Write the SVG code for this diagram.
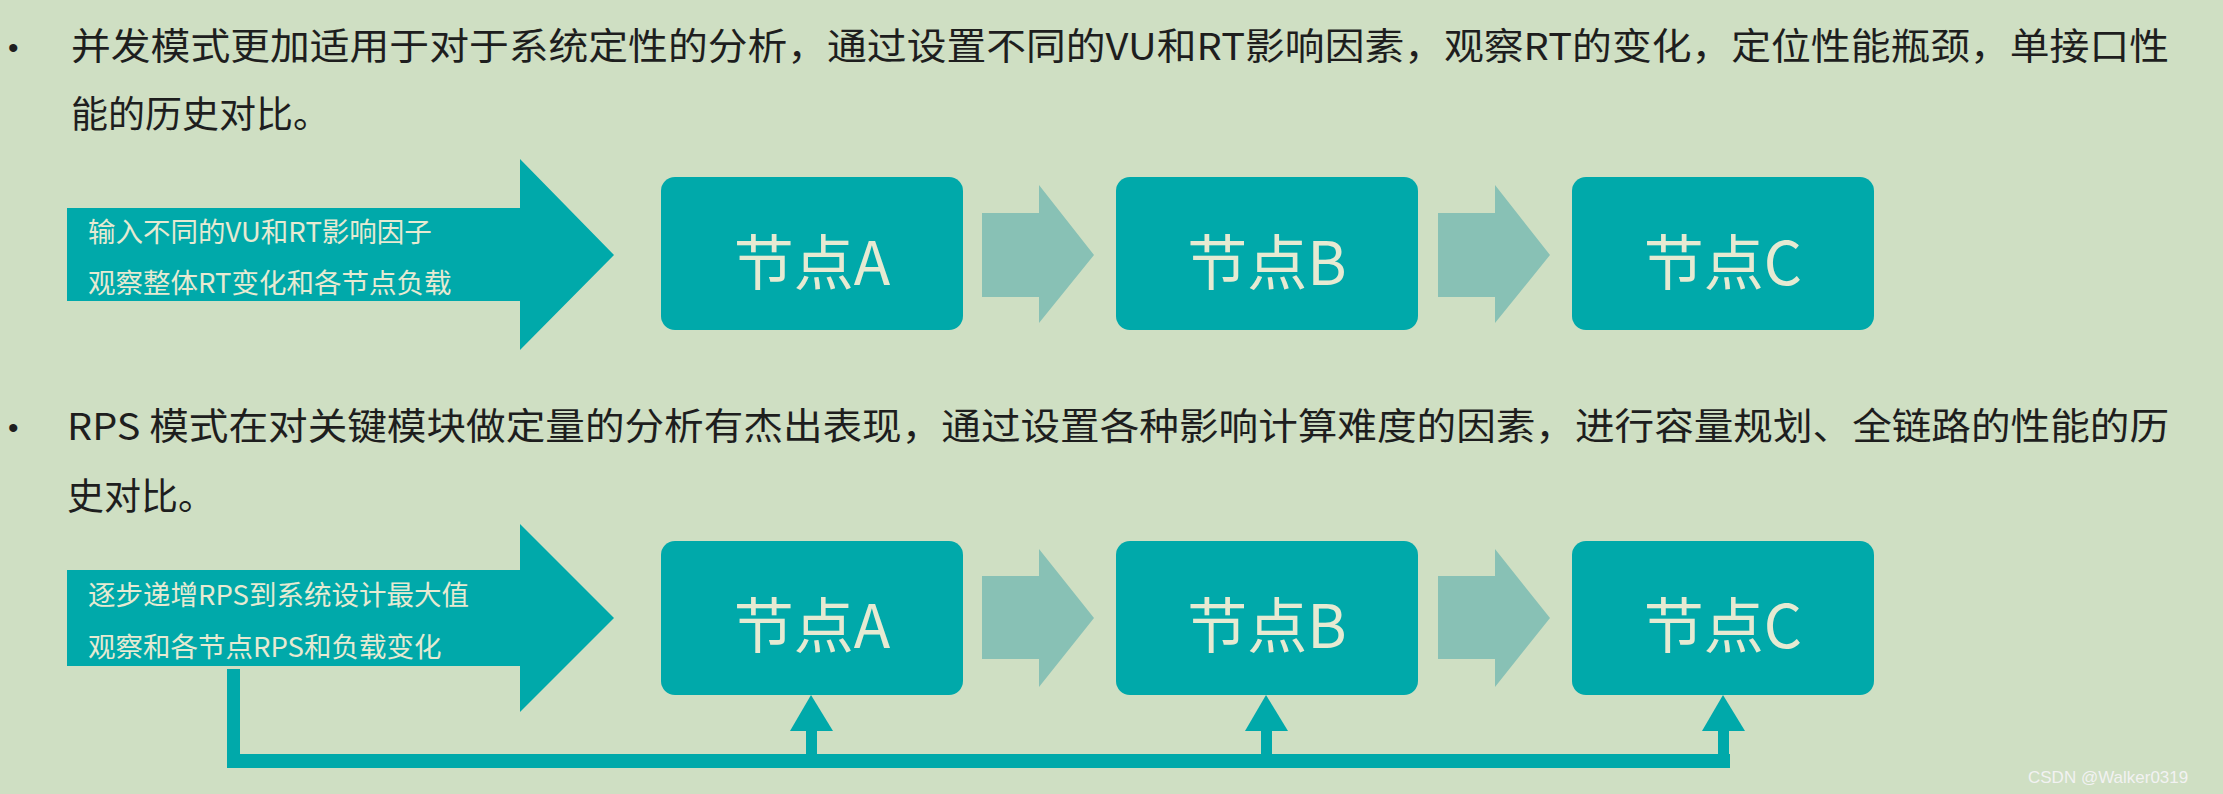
<svg xmlns="http://www.w3.org/2000/svg" width="2223" height="794" viewBox="0 0 2223 794">
<style>
.t{font-family:"Noto Sans CJK SC","Noto Sans",sans-serif;fill:#1e1e1e;font-size:37px}
.bl{font-family:"Liberation Sans",sans-serif;fill:#1e1e1e;font-size:30px}
.box{fill:#00a9aa}
.sa{fill:#88c1b5}
.nt{font-family:"Noto Sans CJK SC","Noto Sans",sans-serif;fill:#e6ead2;font-size:60px;text-anchor:middle}
.at{font-family:"Noto Sans CJK SC","Noto Sans",sans-serif;fill:#e6ead2;font-size:27.5px}
</style>
<rect width="2223" height="794" fill="#cfdfc3"/>
<text class="bl" x="8" y="58">•</text>
<text class="t" x="71" y="60" textLength="2098" lengthAdjust="spacingAndGlyphs">并发模式更加适用于对于系统定性的分析，通过设置不同的VU和RT影响因素，观察RT的变化，定位性能瓶颈，单接口性</text>
<text class="t" x="71" y="128">能的历史对比。</text>
<text class="bl" x="8" y="438">•</text>
<text class="t" x="67" y="440" textLength="2102" lengthAdjust="spacingAndGlyphs">RPS 模式在对关键模块做定量的分析有杰出表现，通过设置各种影响计算难度的因素，进行容量规划、全链路的性能的历</text>
<text class="t" x="67" y="510">史对比。</text>
<g id="row1-input">
<polygon class="box" points="67,208 520,208 520,159 614,255 520,350 520,301 67,301"/>
<text class="at" x="88" y="242">输入不同的VU和RT影响因子</text>
<text class="at" x="88" y="293">观察整体RT变化和各节点负载</text>
</g>
<g id="row1-A"><rect class="box" x="661" y="177" width="302" height="153" rx="14"/><text class="nt" x="812" y="285">节点A</text></g>
<g id="row1-B"><rect class="box" x="1116" y="177" width="302" height="153" rx="14"/><text class="nt" x="1267" y="285">节点B</text></g>
<g id="row1-C"><rect class="box" x="1572" y="177" width="302" height="153" rx="14"/><text class="nt" x="1723" y="285">节点C</text></g>
<g id="row2-input">
<polygon class="box" points="67,570 520,570 520,524 614,618 520,712 520,666 67,666"/>
<text class="at" x="88" y="605">逐步递增RPS到系统设计最大值</text>
<text class="at" x="88" y="657">观察和各节点RPS和负载变化</text>
</g>
<g id="row2-A"><rect class="box" x="661" y="541" width="302" height="154" rx="14"/><text class="nt" x="812" y="648">节点A</text></g>
<g id="row2-B"><rect class="box" x="1116" y="541" width="302" height="154" rx="14"/><text class="nt" x="1267" y="648">节点B</text></g>
<g id="row2-C"><rect class="box" x="1572" y="541" width="302" height="154" rx="14"/><text class="nt" x="1723" y="648">节点C</text></g>
<g id="connectors">
<polygon class="sa" points="982,213 1039,213 1039,185 1094,255 1039,323 1039,297 982,297"/>
<polygon class="sa" points="1438,213 1495,213 1495,185 1550,255 1495,323 1495,297 1438,297"/>
<polygon class="sa" points="982,576 1039,576 1039,549 1094,618 1039,687 1039,659 982,659"/>
<polygon class="sa" points="1438,576 1495,576 1495,549 1550,618 1495,687 1495,659 1438,659"/>
<rect class="box" x="227" y="669" width="13" height="99"/>
<rect class="box" x="227" y="754" width="1503" height="14"/>
<rect class="box" x="806" y="728" width="11" height="30"/>
<polygon class="box" points="811,695 790,731 833,731"/>
<rect class="box" x="1261" y="728" width="11" height="30"/>
<polygon class="box" points="1266,695 1245,731 1288,731"/>
<rect class="box" x="1718" y="728" width="11" height="30"/>
<polygon class="box" points="1723,695 1702,731 1745,731"/>
</g>
<text x="2028" y="783" font-family="Liberation Sans,sans-serif" font-size="17" fill="#f2f2f2">CSDN @Walker0319</text>
</svg>
